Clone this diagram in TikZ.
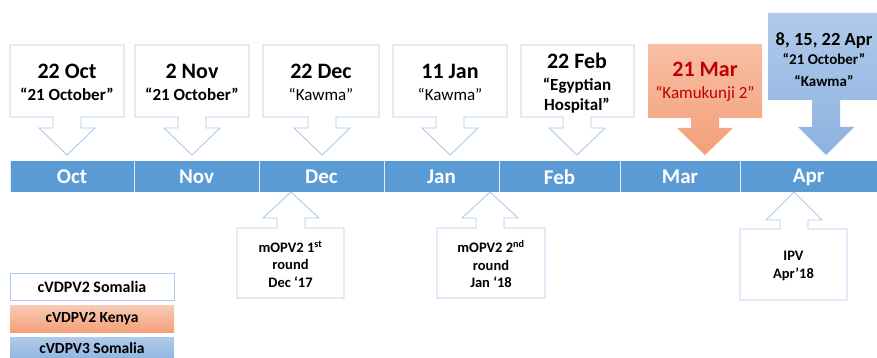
\documentclass[tikz,border=0pt]{standalone}
\usepackage{fontspec}
\setmainfont{Carlito}
\definecolor{barblue}{RGB}{91,155,213}
\definecolor{edgeblue}{RGB}{172,202,236}
\definecolor{kenyatop}{RGB}{248,190,165}
\definecolor{kenyabot}{RGB}{243,160,120}
\definecolor{somtop}{RGB}{176,202,234}
\definecolor{sombot}{RGB}{140,178,224}
\definecolor{datered}{RGB}{192,0,0}

% callout: [style]{left}{right}{far edge y}{arrow edge y}{tip x}{head y}{tip y}
\newcommand{\callout}[8][]{%
  \path[#1] (#2,#4) -- (#3,#4) -- (#3,#5) -- (#6+14,#5) -- (#6+14,#7)
    -- (#6+28,#7) -- (#6,#8) -- (#6-28,#7) -- (#6-14,#7) -- (#6-14,#5)
    -- (#2,#5) -- cycle;}
\newcommand{\subsize}{\fontsize{17}{19}\selectfont}
\newcommand{\aprsize}{\fontsize{15}{15}\selectfont}

\tikzset{
  outline/.style={draw=edgeblue, line width=0.9pt, fill=white},
  kenya/.style={top color=kenyatop, bottom color=kenyabot, draw=none},
  somalia3/.style={top color=somtop, bottom color=sombot, draw=none},
  datetext/.style={align=center, font=\fontsize{22}{25}\selectfont\bfseries},
  roundtext/.style={align=center, font=\fontsize{14.5}{17.5}\selectfont\bfseries},
  monthtext/.style={text=white, font=\fontsize{21}{22}\selectfont\bfseries},
  legendtext/.style={font=\fontsize{16}{18}\selectfont\bfseries}
}

\begin{document}
\begin{tikzpicture}[x=1pt,y=-1pt]
\useasboundingbox (0,0) rectangle (877,358);

% timeline bar
\foreach \m/\a/\b in {Oct/10/134,Nov/134/259,Dec/259/384,Jan/384/499,Feb/499/620,Mar/620/740,Apr/740/877}{
  \fill[barblue] (\a,161) rectangle (\b,192);
  \draw[white!80!barblue, line width=0.7pt] (\a,161) -- (\a,192);
  \node[monthtext] (m\m) at ({(\a+\b)/2},177) {\m};
}

% top callouts
\callout[outline]{10}{124}{45}{117}{67}{128}{155}
\callout[outline]{135}{249}{45}{117}{192}{128}{155}
\callout[outline]{263}{379}{45}{117}{322}{128}{155}
\callout[outline]{393}{507}{45}{117}{450}{128}{155}
\callout[outline]{521}{634}{45}{117}{577}{128}{155}
\callout[kenya]{648}{762}{44}{118}{705}{128}{155}
\callout[somalia3]{768}{877}{13}{100}{826}{127}{155}

\node[datetext] (oct) at (67,82) {22 Oct\\[-3pt]{\subsize “21 October”}};
\node[datetext] (nov) at (192,82) {2 Nov\\[-3pt]{\subsize “21 October”}};
\node[datetext] (dec) at (321,82) {22 Dec\\[-3pt]{\subsize\mdseries “Kawma”}};
\node[datetext] (jan) at (450,82) {11 Jan\\[-3pt]{\subsize\mdseries “Kawma”}};
\node[datetext] (feb) at (577,83) {22 Feb\\[-3pt]{\subsize “Egyptian}\\[-5pt]{\subsize Hospital”}};
\node[datetext, text=datered] (mar) at (705,82) {21 Mar\\[-3pt]{\subsize\mdseries “Kamukunji 2”}};
\node[datetext, font=\fontsize{18.5}{21}\selectfont\bfseries] (apr) at (824,60)
  {8, 15, 22 Apr\\[-2pt]{\aprsize “21 October”}\\[1pt]{\aprsize “Kawma”}};

% bottom callouts
\callout[outline]{237}{344}{298}{228}{291}{218}{192}
\callout[outline]{437}{545}{298}{228}{490}{218}{192}
\callout[outline]{740}{847}{300}{229}{794}{220}{192}

\node[roundtext] (round1) at (290.5,264) {mOPV2 1\textsuperscript{st}\\round\\Dec ‘17};
\node[roundtext] (round2) at (491,264) {mOPV2 2\textsuperscript{nd}\\round\\Jan ‘18};
\node[roundtext] (ipv) at (793.5,266) {IPV\\Apr’18};

% legend
\draw[outline, line width=0.8pt] (10,273) rectangle (174,300);
\shade[top color=kenyatop!80!white, bottom color=kenyabot] (10,305) rectangle (174,332);
\shade[top color=somtop, bottom color=sombot] (10,337) rectangle (174,362);
\node[legendtext] (leg1) at (92,286.5) {cVDPV2 Somalia};
\node[legendtext, font=\fontsize{15.5}{17}\selectfont\bfseries] (leg2) at (92,318.5) {cVDPV2 Kenya};
\node[legendtext, font=\fontsize{15.5}{17}\selectfont\bfseries] (leg3) at (92,348.5) {cVDPV3 Somalia};
\end{tikzpicture}
\end{document}
